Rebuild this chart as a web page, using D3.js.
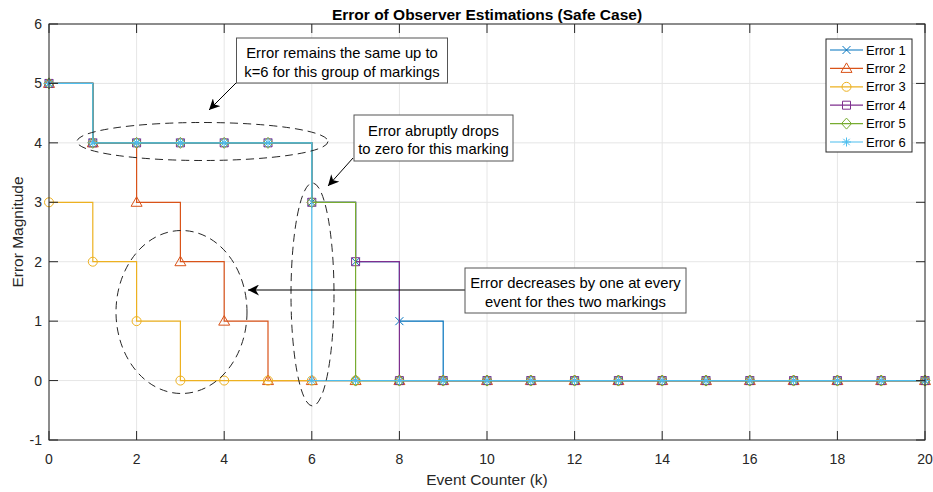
<!DOCTYPE html>
<html>
<head>
<meta charset="utf-8">
<script src="https://cdn.jsdelivr.net/npm/d3@7"></script>
<style>
  body { margin: 0; background: #fff; }
  text { font-family: "Liberation Sans", Arial, sans-serif; fill: #262626; }
</style>
</head>
<body>
<svg id="chart" width="933" height="492"></svg>
<script>
// event counter and the error of each marking
const k = [0, 1, 2, 3, 4, 5, 6, 7, 8, 9, 10, 11, 12, 13, 14, 15, 16, 17, 18, 19, 20];
const error1 = [5, 4, 4, 4, 4, 4, 3, 2, 1, 0, 0, 0, 0, 0, 0, 0, 0, 0, 0, 0, 0];
const error2 = [5, 4, 3, 2, 1, 0, 0, 0, 0, 0, 0, 0, 0, 0, 0, 0, 0, 0, 0, 0, 0];
const error3 = [3, 2, 1, 0, 0, 0, 0, 0, 0, 0, 0, 0, 0, 0, 0, 0, 0, 0, 0, 0, 0];
const error4 = [5, 4, 4, 4, 4, 4, 3, 2, 0, 0, 0, 0, 0, 0, 0, 0, 0, 0, 0, 0, 0];
const error5 = [5, 4, 4, 4, 4, 4, 3, 0, 0, 0, 0, 0, 0, 0, 0, 0, 0, 0, 0, 0, 0];
const error6 = [5, 4, 4, 4, 4, 4, 0, 0, 0, 0, 0, 0, 0, 0, 0, 0, 0, 0, 0, 0, 0];

const seriesNames = ['Error 1', 'Error 2', 'Error 3', 'Error 4', 'Error 5', 'Error 6'];
const seriesValues = [error1, error2, error3, error4, error5, error6];
const seriesColors = ['#0072BD', '#D95319', '#EDB120', '#7E2F8E', '#77AC30', '#4DBEEE'];
const seriesMarkers = ['x', 'triangle', 'circle', 'square', 'diamond', 'star'];

const xTicks = [0, 2, 4, 6, 8, 10, 12, 14, 16, 18, 20];
const yTicks = [-1, 0, 1, 2, 3, 4, 5, 6];

const svg = d3.select('#chart');
const plotLeft = 49, plotRight = 925, plotTop = 24, plotBottom = 440;

const x = d3.scaleLinear().domain([0, 20]).range([plotLeft, plotRight]);
const y = d3.scaleLinear().domain([-1, 6]).range([plotBottom, plotTop]);

// grid
const grid = svg.append('g').attr('stroke', '#e6e6e6').attr('stroke-width', 1);
grid.selectAll('.gx').data(xTicks).enter().append('line')
  .attr('x1', (d) => x(d)).attr('x2', (d) => x(d))
  .attr('y1', plotTop).attr('y2', plotBottom);
grid.selectAll('.gy').data(yTicks).enter().append('line')
  .attr('x1', plotLeft).attr('x2', plotRight)
  .attr('y1', (d) => y(d)).attr('y2', (d) => y(d));

// marker shapes, drawn around 0,0
const markerPath = (type) => {
  switch (type) {
    case 'x': return 'M-4,-4L4,4M-4,4L4,-4';
    case 'triangle': return 'M0,-5.5L5.5,4L-5.5,4Z';
    case 'circle': return 'M4.5,0A4.5,4.5 0 1,1 -4.5,0A4.5,4.5 0 1,1 4.5,0Z';
    case 'square': return 'M-4,-4H4V4H-4Z';
    case 'diamond': return 'M0,-5.5L5,0L0,5.5L-5,0Z';
    case 'star': return 'M-4.5,0H4.5M0,-4.5V4.5M-3.2,-3.2L3.2,3.2M-3.2,3.2L3.2,-3.2';
  }
};

const stairs = d3.line()
  .x((d) => x(d[0]))
  .y((d) => y(d[1]))
  .curve(d3.curveStepAfter);

const plot = svg.append('g');
seriesValues.forEach((vals, i) => {
  const pts = k.map((kk, j) => [kk, vals[j]]);
  const g = plot.append('g');
  g.append('path')
    .datum(pts)
    .attr('d', stairs)
    .attr('fill', 'none')
    .attr('stroke', seriesColors[i])
    .attr('stroke-width', 1.2);
  g.selectAll('.m').data(pts).enter().append('path')
    .attr('transform', (d) => `translate(${x(d[0])},${y(d[1])})`)
    .attr('d', markerPath(seriesMarkers[i]))
    .attr('fill', 'none')
    .attr('stroke', seriesColors[i])
    .attr('stroke-width', 1);
});

// axes box with inward ticks on all sides
const axes = svg.append('g').attr('stroke', '#262626').attr('stroke-width', 1);
axes.append('rect')
  .attr('x', plotLeft).attr('y', plotTop)
  .attr('width', plotRight - plotLeft).attr('height', plotBottom - plotTop)
  .attr('fill', 'none');
axes.selectAll('.tb').data(xTicks).enter().append('path')
  .attr('d', (d) => `M${x(d)},${plotBottom}v-9M${x(d)},${plotTop}v9`);
axes.selectAll('.tl').data(yTicks).enter().append('path')
  .attr('d', (d) => `M${plotLeft},${y(d)}h9M${plotRight},${y(d)}h-9`);

svg.append('g').selectAll('text').data(xTicks).enter().append('text')
  .attr('x', (d) => x(d)).attr('y', 464)
  .attr('text-anchor', 'middle')
  .style('font-size', '14px')
  .text((d) => d);
svg.append('g').selectAll('text').data(yTicks).enter().append('text')
  .attr('x', plotLeft - 7).attr('y', (d) => y(d) + 5)
  .attr('text-anchor', 'end')
  .style('font-size', '14px')
  .text((d) => d);

svg.append('text')
  .attr('x', (plotLeft + plotRight) / 2).attr('y', 485)
  .attr('text-anchor', 'middle')
  .style('font-size', '15.5px')
  .text('Event Counter (k)');
svg.append('text')
  .attr('transform', `translate(23,${(plotTop + plotBottom) / 2}) rotate(-90)`)
  .attr('text-anchor', 'middle')
  .style('font-size', '15.5px')
  .text('Error Magnitude');
svg.append('text')
  .attr('x', (plotLeft + plotRight) / 2).attr('y', 19.5)
  .attr('text-anchor', 'middle')
  .style('font-size', '15.5px')
  .style('font-weight', 'bold')
  .style('fill', '#000')
  .text('Error of Observer Estimations (Safe Case)');

// legend
const legend = svg.append('g');
legend.append('rect')
  .attr('x', 826).attr('y', 39).attr('width', 86).attr('height', 113)
  .attr('fill', '#fff').attr('stroke', '#262626').attr('stroke-width', 1);
seriesNames.forEach((name, i) => {
  const ly = 50 + i * 18.4;
  legend.append('line')
    .attr('x1', 830).attr('x2', 863).attr('y1', ly).attr('y2', ly)
    .attr('stroke', seriesColors[i]).attr('stroke-width', 1.2);
  legend.append('path')
    .attr('transform', `translate(846.5,${ly})`)
    .attr('d', markerPath(seriesMarkers[i]))
    .attr('fill', 'none').attr('stroke', seriesColors[i]);
  legend.append('text')
    .attr('x', 866).attr('y', ly + 4.5)
    .style('font-size', '13px')
    .style('fill', '#000')
    .text(name);
});

// annotations
svg.append('defs').append('marker')
  .attr('id', 'arrow-head')
  .attr('viewBox', [0, 0, 10, 10])
  .attr('refX', 10)
  .attr('refY', 5)
  .attr('markerUnits', 'userSpaceOnUse')
  .attr('markerWidth', 11)
  .attr('markerHeight', 11)
  .attr('orient', 'auto')
  .append('path')
  .attr('d', 'M 0 0 L 10 5 L 0 10 L 3 5 z')
  .attr('fill', '#000');

const notes = svg.append('g');
const ellipses = [
  { cx: 202.5, cy: 141.5, rx: 125.5, ry: 19 },
  { cx: 312.5, cy: 294.5, rx: 21.5, ry: 111.5 },
  { cx: 181.5, cy: 312, rx: 65.5, ry: 81.5 },
];
notes.selectAll('ellipse').data(ellipses).enter().append('ellipse')
  .attr('cx', (d) => d.cx).attr('cy', (d) => d.cy)
  .attr('rx', (d) => d.rx).attr('ry', (d) => d.ry)
  .attr('fill', 'none')
  .attr('stroke', '#262626')
  .attr('stroke-width', 1)
  .attr('stroke-dasharray', '8,5');

const arrows = [
  { x1: 237, y1: 82, x2: 209, y2: 110 },
  { x1: 353, y1: 158, x2: 328, y2: 186 },
  { x1: 465, y1: 290, x2: 248, y2: 290 },
];
notes.selectAll('.arrow').data(arrows).enter().append('line')
  .attr('x1', (d) => d.x1).attr('y1', (d) => d.y1)
  .attr('x2', (d) => d.x2).attr('y2', (d) => d.y2)
  .attr('stroke', '#000').attr('stroke-width', 1)
  .attr('marker-end', 'url(#arrow-head)');

const boxes = [
  { x: 236.5, y: 38, w: 211, h: 45, lines: ['Error remains the same up to', 'k=6 for this group of markings'] },
  { x: 354, y: 115, w: 159, h: 46, lines: ['Error abruptly drops', 'to zero for this marking'] },
  { x: 465, y: 268, w: 221, h: 45, lines: ['Error decreases by one at every', 'event for thes two markings'] },
];
boxes.forEach((b) => {
  notes.append('rect')
    .attr('x', b.x).attr('y', b.y).attr('width', b.w).attr('height', b.h)
    .attr('fill', '#fff').attr('stroke', '#555').attr('stroke-width', 1);
  b.lines.forEach((t, i) => {
    notes.append('text')
      .attr('x', b.x + b.w / 2)
      .attr('y', b.y + b.h / 2 - 2.5 + i * 18.5)
      .attr('text-anchor', 'middle')
      .style('font-size', '14.8px')
      .style('fill', '#000')
      .text(t);
  });
});
</script>
</body>
</html>
